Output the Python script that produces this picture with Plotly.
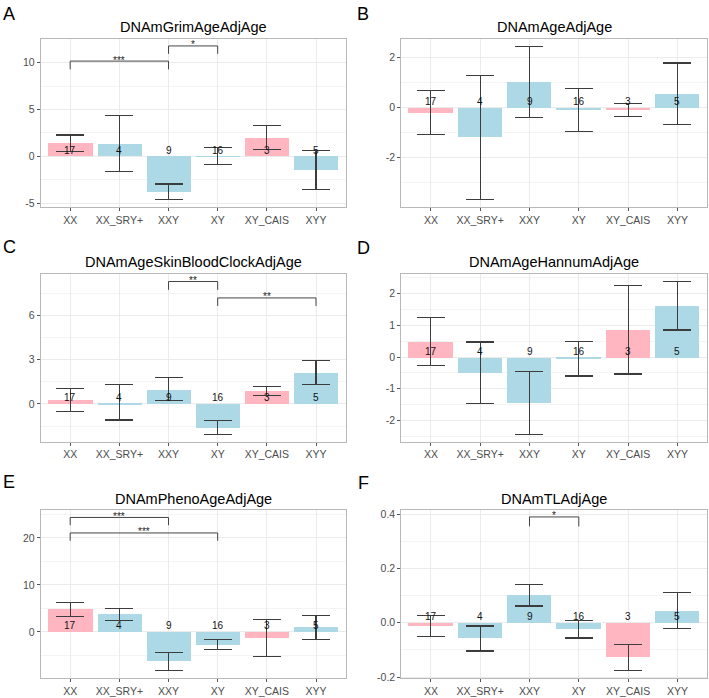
import plotly.graph_objects as go

W, H = 709, 698

groups = ["XX", "XX_SRY+", "XXY", "XY", "XY_CAIS", "XYY"]
counts = [17, 4, 9, 16, 3, 5]
bar_colors = ["#FFB6C1", "#ADD8E6", "#ADD8E6", "#ADD8E6", "#FFB6C1", "#ADD8E6"]

titles = ["DNAmGrimAgeAdjAge", "DNAmAgeAdjAge", "DNAmAgeSkinBloodClockAdjAge",
          "DNAmAgeHannumAdjAge", "DNAmPhenoAgeAdjAge", "DNAmTLAdjAge"]
letters = ["A", "B", "C", "D", "E", "F"]

# mean and standard error per group, per panel
means_A = [1.42, 1.38, -3.80, 0.04, 2.00, -1.45]
se_A = [0.87, 2.95, 0.85, 0.93, 1.26, 2.05]
means_B = [-0.20, -1.20, 1.01, -0.09, -0.10, 0.55]
se_B = [0.87, 2.48, 1.43, 0.86, 0.265, 1.235]
means_C = [0.27, 0.10, 1.00, -1.60, 0.87, 2.12]
se_C = [0.76, 1.19, 0.80, 0.48, 0.31, 0.80]
means_D = [0.50, -0.50, -1.45, -0.05, 0.87, 1.62]
se_D = [0.755, 0.975, 0.995, 0.55, 1.405, 0.765]
means_E = [4.80, 3.70, -6.30, -2.70, -1.26, 0.95]
se_E = [1.47, 1.33, 1.86, 1.02, 3.93, 2.63]
means_F = [-0.012, -0.058, 0.102, -0.023, -0.128, 0.044]
se_F = [0.040, 0.046, 0.040, 0.033, 0.049, 0.066]

# significance brackets: (group1, group2, bracket y, tip y, label)
brackets_A = [("XX", "XXY", 10.18, 9.3, "***"), ("XXY", "XY", 11.8, 10.96, "*")]
brackets_B = []
brackets_C = [("XXY", "XY", 8.28, 7.72, "**"), ("XY", "XYY", 7.17, 6.63, "**")]
brackets_D = []
brackets_E = [("XX", "XXY", 24.35, 22.7, "***"), ("XX", "XY", 21.05, 19.4, "***")]
brackets_F = [("XXY", "XY", 0.39, 0.355, "*")]

yticks_A = [-5, 0, 5, 10]; ylabels_A = ["-5", "0", "5", "10"]
yticks_B = [-2, 0, 2]; ylabels_B = ["-2", "0", "2"]
yticks_C = [0, 3, 6]; ylabels_C = ["0", "3", "6"]
yticks_D = [-2, -1, 0, 1, 2]; ylabels_D = ["-2", "-1", "0", "1", "2"]
yticks_E = [0, 10, 20]; ylabels_E = ["0", "10", "20"]
yticks_F = [-0.2, 0.0, 0.2, 0.4]; ylabels_F = ["-0.2", "0.0", "0.2", "0.4"]

panels = [
    dict(means=means_A, se=se_A, br=brackets_A, yt=yticks_A, yl=ylabels_A, rng=[-5.4, 12.55], minor=2.5),
    dict(means=means_B, se=se_B, br=brackets_B, yt=yticks_B, yl=ylabels_B, rng=[-3.99, 2.75], minor=1),
    dict(means=means_C, se=se_C, br=brackets_C, yt=yticks_C, yl=ylabels_C, rng=[-2.57, 8.82], minor=1.5),
    dict(means=means_D, se=se_D, br=brackets_D, yt=yticks_D, yl=ylabels_D, rng=[-2.68, 2.64], minor=0.5),
    dict(means=means_E, se=se_E, br=brackets_E, yt=yticks_E, yl=ylabels_E, rng=[-9.82, 25.9], minor=5),
    dict(means=means_F, se=se_F, br=brackets_F, yt=yticks_F, yl=ylabels_F, rng=[-0.204, 0.415], minor=0.1),
]

# layout in pixels
col_x = [(40.7, 345.5), (401.3, 707.0)]
row_y = [(37.3, 207.0), (274.3, 444.3), (513.3, 683.0)]
title_y = [25.5, 263.0, 502.0]
letter_pos = [(9, 12), (363, 12), (9, 247), (363, 248), (9, 485), (363, 486)]

FONT = "Liberation Sans, Arial, sans-serif"
fig = go.Figure()
annotations = []
shapes = []

for i, p in enumerate(panels):
    r, c = divmod(i, 2)
    xn = "" if i == 0 else str(i + 1)
    xa, ya = "x" + xn, "y" + xn
    x0, x1 = col_x[c]
    y0, y1 = row_y[r]
    fig.add_trace(go.Bar(
        x=groups, y=p["means"], xaxis=xa, yaxis=ya, width=0.9,
        marker=dict(color=bar_colors, line=dict(width=0)),
        error_y=dict(type="data", array=p["se"], visible=True,
                     color="#3c3c3c", thickness=1.1, width=14),
        showlegend=False, hoverinfo="skip",
    ))
    common = dict(showline=True, mirror=True, linecolor="#b8b8b8", linewidth=1,
                  ticks="outside", ticklen=3, tickwidth=1, tickcolor="#555555",
                  tickfont=dict(family=FONT, size=10.5, color="#4d4d4d"),
                  gridcolor="#ebebeb", gridwidth=1, zeroline=False)
    fig.layout["xaxis" + xn] = dict(
        domain=[x0 / W, x1 / W], anchor=ya, type="category",
        categoryorder="array", categoryarray=groups, range=[-0.6, 5.6],
        fixedrange=True, **common)
    fig.layout["yaxis" + xn] = dict(
        domain=[1 - y1 / H, 1 - y0 / H], anchor=xa, range=p["rng"],
        tickmode="array", tickvals=p["yt"], ticktext=p["yl"],
        minor=dict(tickmode="linear", tick0=0, dtick=p["minor"], showgrid=True,
                   gridcolor="#f4f4f4", gridwidth=0.8, ticks=""),
        **common)
    # counts
    for g, n in zip(groups, counts):
        annotations.append(dict(x=g, y=0, xref=xa, yref=ya, text=str(n),
                                showarrow=False, yshift=6,
                                font=dict(family=FONT, size=10, color="#111111")))
    # brackets
    for g1, g2, yb, yt, lab in p["br"]:
        shapes.append(dict(type="line", xref=xa, yref=ya, x0=g1, x1=g2, y0=yb, y1=yb,
                           line=dict(color="#444444", width=1)))
        shapes.append(dict(type="line", xref=xa, yref=ya, x0=g1, x1=g1, y0=yt, y1=yb,
                           line=dict(color="#444444", width=1)))
        shapes.append(dict(type="line", xref=xa, yref=ya, x0=g2, x1=g2, y0=yt, y1=yb,
                           line=dict(color="#444444", width=1)))
        i1, i2 = groups.index(g1), groups.index(g2)
        annotations.append(dict(x=(i1 + i2) / 2, y=yb, xref=xa, yref=ya, text=lab,
                                showarrow=False, yanchor="middle", yshift=1,
                                font=dict(family=FONT, size=10, color="#222222")))
    # title
    annotations.append(dict(x=(x0 + x1) / 2 / W, y=1 - title_y[r] / H, xref="paper", yref="paper",
                            text=titles[i], showarrow=False, xanchor="center", yanchor="middle",
                            font=dict(family=FONT, size=14.5, color="#000000")))
    lx, ly = letter_pos[i]
    annotations.append(dict(x=lx / W, y=1 - ly / H, xref="paper", yref="paper",
                            text=letters[i], showarrow=False, xanchor="center", yanchor="middle",
                            font=dict(family=FONT, size=18, color="#000000")))

fig.update_layout(width=W, height=H, margin=dict(l=0, r=0, t=0, b=0),
                  paper_bgcolor="white", plot_bgcolor="white",
                  annotations=annotations, shapes=shapes, bargap=0)
fig.write_html("out.html")
